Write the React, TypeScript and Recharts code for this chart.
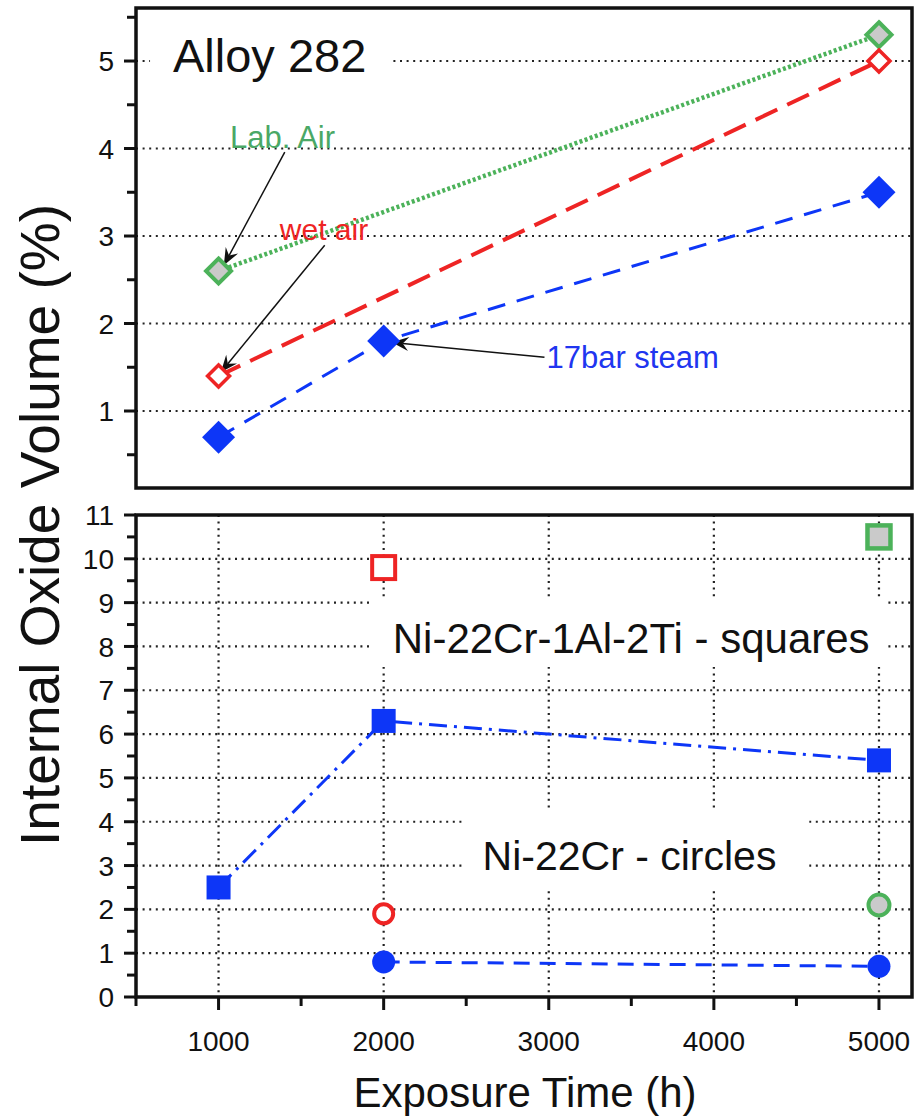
import React from "react";
import {
  ComposedChart,
  Line,
  XAxis,
  YAxis,
  CartesianGrid,
  ReferenceArea,
  ReferenceDot,
  ReferenceLine,
} from "recharts";

const FONT = '"Liberation Sans", Arial, Helvetica, sans-serif';

// exposure times (h)
const hours = [1000, 2000, 5000];

// Alloy 282 (top panel)
const labAir282 = [2.6, null, 5.3];
const wetAir282 = [1.4, null, 5.0];
const steam282 = [0.7, 1.8, 3.5];

// Ni-22Cr-1Al-2Ti (squares)
const steamSquares = [2.5, 6.3, 5.4];
const wetSquares = [null, 9.8, null];
const labSquares = [null, null, 10.5];

// Ni-22Cr (circles)
const steamCircles = [null, 0.8, 0.7];
const wetCircles = [null, 1.9, null];
const labCircles = [null, null, 2.1];

// ticks
const xTicks = [500, 1000, 1500, 2000, 2500, 3000, 3500, 4000, 4500, 5000];
const xLabels = [1000, 2000, 3000, 4000, 5000];
const topYTicks = [0.5, 1, 1.5, 2, 2.5, 3, 3.5, 4, 4.5, 5, 5.5];
const topYLabels = [1, 2, 3, 4, 5];
const topGrid = [1, 2, 3, 4, 5];
const bottomYTicks = [0, 0.5, 1, 1.5, 2, 2.5, 3, 3.5, 4, 4.5, 5, 5.5, 6, 6.5, 7, 7.5, 8, 8.5, 9, 9.5, 10, 10.5, 11];
const bottomYLabels = [0, 1, 2, 3, 4, 5, 6, 7, 8, 9, 10, 11];
const bottomGrid = [1, 2, 3, 4, 5, 6, 7, 8, 9, 10];

const X_DOMAIN = [500, 5200];
const TOP_DOMAIN = [0.12, 5.606];
const BOTTOM_DOMAIN = [0, 11];

const topData = hours.map((h, i) => ({
  h,
  lab: labAir282[i],
  wet: wetAir282[i],
  steam: steam282[i],
}));

const bottomData = hours.map((h, i) => ({
  h,
  sqSteam: steamSquares[i],
  sqWet: wetSquares[i],
  sqLab: labSquares[i],
  ciSteam: steamCircles[i],
  ciWet: wetCircles[i],
  ciLab: labCircles[i],
}));

const BLUE = "#0d36f7";
const RED = "#ee2424";
const GREEN = "#4cb25a";
const GRAY = "#cacaca";

const makeXTick = (labels: number[]) => (p: any) => {
  const { x, y, payload } = p;
  const major = labels.includes(payload.value);
  return (
    <g>
      <line x1={x} x2={x} y1={y} y2={y + (major ? 13 : 9)} stroke="#111" strokeWidth={3} />
      {major && (
        <text x={x} y={y + 54} textAnchor="middle" fontSize={28} fill="#111" fontFamily={FONT}>
          {payload.value}
        </text>
      )}
    </g>
  );
};

const makeYTick = (labels: number[]) => (p: any) => {
  const { x, y, payload } = p;
  const major = labels.includes(payload.value);
  return (
    <g>
      <line x1={x} x2={x - (major ? 12 : 9)} y1={y} y2={y} stroke="#111" strokeWidth={3} />
      {major && (
        <text x={x - 22} y={y} dy="0.36em" textAnchor="end" fontSize={28} fill="#111" fontFamily={FONT}>
          {payload.value}
        </text>
      )}
    </g>
  );
};

const diamondDot = (s: number, fill: string, stroke: string, sw: number) => (p: any) => {
  const { cx, cy, value } = p;
  const k = p.key ?? `d-${p.index}`;
  if (cx == null || cy == null || value == null) return <g key={k} />;
  return (
    <polygon
      key={k}
      points={`${cx},${cy - s} ${cx + s},${cy} ${cx},${cy + s} ${cx - s},${cy}`}
      fill={fill}
      stroke={stroke}
      strokeWidth={sw}
    />
  );
};

const squareDot = (s: number, fill: string, stroke: string, sw: number) => (p: any) => {
  const { cx, cy, value } = p;
  const k = p.key ?? `s-${p.index}`;
  if (cx == null || cy == null || value == null) return <g key={k} />;
  return <rect key={k} x={cx - s} y={cy - s} width={2 * s} height={2 * s} fill={fill} stroke={stroke} strokeWidth={sw} />;
};

const circleDot = (r: number, fill: string, stroke: string, sw: number) => (p: any) => {
  const { cx, cy, value } = p;
  const k = p.key ?? `c-${p.index}`;
  if (cx == null || cy == null || value == null) return <g key={k} />;
  return <circle key={k} cx={cx} cy={cy} r={r} fill={fill} stroke={stroke} strokeWidth={sw} />;
};

const textShape = (label: string, size: number, color: string) => (p: any) => (
  <text x={p.cx} y={p.cy} fontSize={size} fill={color} fontFamily={FONT}>
    {label}
  </text>
);

const arrowShape = (p: any) => {
  const { x1, y1, x2, y2 } = p;
  const a = Math.atan2(y2 - y1, x2 - x1);
  const c = Math.cos(a);
  const s = Math.sin(a);
  const L = 17;
  const W = 7;
  const N = 11;
  const bx = x2 - L * c;
  const by = y2 - L * s;
  const nx = x2 - N * c;
  const ny = y2 - N * s;
  return (
    <g>
      <line x1={x1} y1={y1} x2={nx} y2={ny} stroke="#111" strokeWidth={1.5} />
      <polygon
        points={`${x2},${y2} ${bx - W * s},${by + W * c} ${nx},${ny} ${bx + W * s},${by - W * c}`}
        fill="#111"
      />
    </g>
  );
};

function TopPanel() {
  return (
    <ComposedChart width={920} height={500} data={topData} margin={{ top: 8, right: 8, bottom: 12, left: 0 }}>
      <CartesianGrid
        horizontalValues={topGrid}
        verticalValues={xLabels}
        stroke="#222"
        strokeWidth={2.2}
        strokeDasharray="2 4.6"
      />
      <XAxis
        dataKey="h"
        type="number"
        domain={X_DOMAIN}
        ticks={xLabels}
        height={0}
        tick={false}
        tickLine={false}
        axisLine={false}
        allowDataOverflow
      />
      <YAxis
        type="number"
        domain={TOP_DOMAIN}
        ticks={topYTicks}
        width={136}
        interval={0}
        tickSize={0}
        tickMargin={0}
        tickLine={false}
        axisLine={false}
        tick={makeYTick(topYLabels)}
        allowDataOverflow
      />
      <ReferenceArea x1={585} x2={2049} y1={4.67} y2={5.606} fill="#fff" fillOpacity={1} stroke="none" ifOverflow="visible" />
      <ReferenceArea x1={500} x2={5200} y1={0.12} y2={5.606} fill="none" stroke="#111" strokeWidth={3.5} ifOverflow="visible" />
      <Line
        dataKey="lab"
        stroke={GREEN}
        strokeWidth={4.5}
        strokeDasharray="3 2.4"
        connectNulls
        dot={diamondDot(12.5, GRAY, GREEN, 4)}
        activeDot={false}
        isAnimationActive={false}
      />
      <Line
        dataKey="wet"
        stroke={RED}
        strokeWidth={4}
        strokeDasharray="24 11"
        connectNulls
        dot={diamondDot(11, "#fff", RED, 3.5)}
        activeDot={false}
        isAnimationActive={false}
      />
      <Line
        dataKey="steam"
        stroke={BLUE}
        strokeWidth={3}
        strokeDasharray="18 12"
        dot={diamondDot(16.5, BLUE, BLUE, 0)}
        activeDot={false}
        isAnimationActive={false}
      />
      <ReferenceDot x={724} y={4.874} r={0} ifOverflow="visible" shape={textShape("Alloy 282", 47, "#111")} />
      <ReferenceDot x={1069} y={4.005} r={0} ifOverflow="visible" shape={textShape("Lab. Air", 31, "#4aa866")} />
      <ReferenceDot x={1371} y={2.952} r={0} ifOverflow="visible" shape={textShape("wet air", 30, RED)} />
      <ReferenceDot x={2986} y={1.487} r={0} ifOverflow="visible" shape={textShape("17bar steam", 31, "#2035f0")} />
      <ReferenceLine segment={[{ x: 1401, y: 3.959 }, { x: 1032, y: 2.666 }]} ifOverflow="visible" shape={arrowShape} />
      <ReferenceLine segment={[{ x: 1643, y: 2.895 }, { x: 1014, y: 1.442 }]} ifOverflow="visible" shape={arrowShape} />
      <ReferenceLine segment={[{ x: 2974, y: 1.613 }, { x: 2049, y: 1.785 }]} ifOverflow="visible" shape={arrowShape} />
    </ComposedChart>
  );
}

function BottomPanel() {
  return (
    <ComposedChart width={920} height={618} data={bottomData} margin={{ top: 15, right: 8, bottom: 0, left: 0 }}>
      <CartesianGrid
        horizontalValues={bottomGrid}
        verticalValues={xLabels}
        stroke="#222"
        strokeWidth={2.2}
        strokeDasharray="2 4.6"
      />
      <XAxis
        dataKey="h"
        type="number"
        domain={X_DOMAIN}
        ticks={xTicks}
        height={121}
        interval={0}
        tickSize={0}
        tickMargin={0}
        tickLine={false}
        axisLine={false}
        tick={makeXTick(xLabels)}
        allowDataOverflow
      />
      <YAxis
        type="number"
        domain={BOTTOM_DOMAIN}
        ticks={bottomYTicks}
        width={136}
        interval={0}
        tickSize={0}
        tickMargin={0}
        tickLine={false}
        axisLine={false}
        tick={makeYTick(bottomYLabels)}
        allowDataOverflow
      />
      <ReferenceArea x1={1934} x2={5049} y1={7.53} y2={9.13} fill="#fff" fillOpacity={1} stroke="none" ifOverflow="visible" />
      <ReferenceArea x1={2478} x2={4577} y1={2.49} y2={4.22} fill="#fff" fillOpacity={1} stroke="none" ifOverflow="visible" />
      <ReferenceArea x1={500} x2={5200} y1={0} y2={11} fill="none" stroke="#111" strokeWidth={3.5} ifOverflow="visible" />
      <Line
        dataKey="sqSteam"
        stroke={BLUE}
        strokeWidth={3}
        strokeDasharray="18 7 3 7"
        dot={squareDot(12, BLUE, BLUE, 0)}
        activeDot={false}
        isAnimationActive={false}
      />
      <Line dataKey="sqWet" stroke="none" dot={squareDot(11.5, "#fff", RED, 4)} activeDot={false} isAnimationActive={false} />
      <Line dataKey="sqLab" stroke="none" dot={squareDot(11.5, GRAY, GREEN, 4.5)} activeDot={false} isAnimationActive={false} />
      <Line
        dataKey="ciSteam"
        stroke={BLUE}
        strokeWidth={3}
        strokeDasharray="16 10"
        dot={circleDot(11.5, BLUE, BLUE, 0)}
        activeDot={false}
        isAnimationActive={false}
      />
      <Line dataKey="ciWet" stroke="none" dot={circleDot(9.5, "#fff", RED, 4)} activeDot={false} isAnimationActive={false} />
      <Line dataKey="ciLab" stroke="none" dot={circleDot(10.5, GRAY, GREEN, 4)} activeDot={false} isAnimationActive={false} />
      <ReferenceDot x={2055} y={7.85} r={0} ifOverflow="visible" shape={textShape("Ni-22Cr-1Al-2Ti - squares", 42, "#111")} />
      <ReferenceDot x={2599} y={2.9} r={0} ifOverflow="visible" shape={textShape("Ni-22Cr - circles", 41, "#111")} />
    </ComposedChart>
  );
}

export default function App() {
  return (
    <div
      style={{
        position: "absolute",
        left: 0,
        top: 0,
        width: 920,
        height: 1118,
        background: "#fff",
        fontFamily: FONT,
        color: "#111",
      }}
    >
      <div style={{ position: "absolute", left: 0, top: 0 }}>
        <TopPanel />
      </div>
      <div style={{ position: "absolute", left: 0, top: 500 }}>
        <BottomPanel />
      </div>
      <div
        style={{
          position: "absolute",
          left: 40 - 400,
          top: 525 - 29,
          width: 800,
          height: 58,
          lineHeight: "58px",
          fontSize: 55,
          textAlign: "center",
          transform: "rotate(-90deg)",
          whiteSpace: "nowrap",
        }}
      >
        Internal Oxide Volume (%)
      </div>
      <div
        style={{
          position: "absolute",
          left: 0,
          top: 1072,
          width: 1050,
          lineHeight: "42px",
          fontSize: 42,
          textAlign: "center",
          whiteSpace: "nowrap",
        }}
      >
        Exposure Time (h)
      </div>
    </div>
  );
}
